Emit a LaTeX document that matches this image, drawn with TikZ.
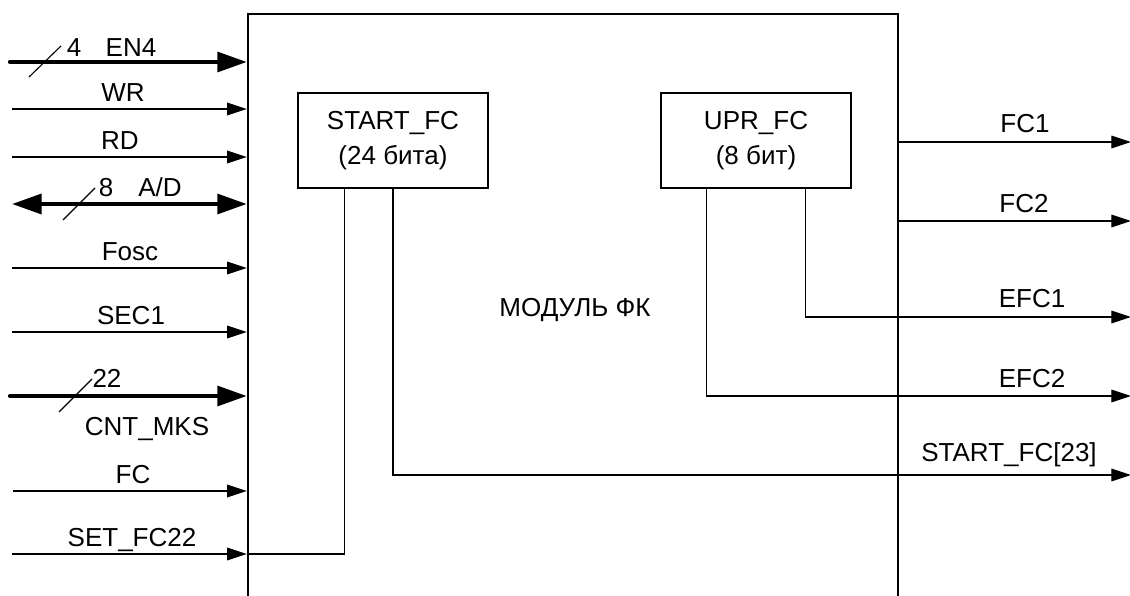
\documentclass[tikz,border=0pt]{standalone}
\usepackage{fontspec}
\setmainfont{Liberation Sans}
\usepackage{tikz}
\usetikzlibrary{arrows.meta,calc}
\tikzset{
  diagram/.style={x=0.025cm,y=-0.025cm,font=\fontsize{18.5}{25}\selectfont},
  lbl/.style={inner sep=0pt,anchor=base},
  modbox/.style={draw,line width=1.6pt,inner sep=0pt},
  regbox/.style={draw,line width=1.5pt,inner sep=0pt,align=center,
    minimum width=4.75cm,minimum height=2.375cm},
  wire/.style={line width=0.8pt},
  sig/.style={wire,-{Triangle[length=14pt,width=9pt]}},
  bus/.style={line width=3pt,line cap=round,-{Triangle[length=21pt,width=14pt]}},
  dbus/.style={line width=3pt,{Triangle[length=21pt,width=14pt]}-{Triangle[length=21pt,width=14pt]}},
  tick/.style={line width=0.8pt},
}
\begin{document}
\begin{tikzpicture}[diagram]
  \useasboundingbox (0,0) rectangle (1130,596);
  \clip (0,0) rectangle (1130,596);

  % module outline (runs past the lower edge)
  \node[modbox,minimum width=16.25cm,minimum height=15.65cm] (mod) at (573,327) {};
  \node[lbl] (modname) at (575,317) {МОДУЛЬ ФК};

  % registers
  \node[regbox] (startfc) at (393,140.5) {START\_FC\\(24 бита)};
  \node[regbox] (uprfc) at (756,140.5) {UPR\_FC\\(8 бит)};

  % inputs
  \coordinate (en4) at (10,62);
  \coordinate (wr) at (12,109);
  \coordinate (rd) at (12,157);
  \coordinate (ad) at (12,204);
  \coordinate (fosc) at (12,268);
  \coordinate (sec1) at (12,332);
  \coordinate (cnt) at (10,396);
  \coordinate (fc) at (13,491);
  \coordinate (setfc) at (12,554);

  \draw[bus] (en4) -- (en4 -| mod.west);
  \draw[tick] ([shift={(19,15)}]en4) -- ++(32,-31);
  \node[lbl] (en4w) at (74,57) {4};
  \node[lbl] (en4n) at (131,57) {EN4};

  \draw[sig] (wr) -- (wr -| mod.west);
  \node[lbl] (wrn) at (123,102) {WR};

  \draw[sig] (rd) -- (rd -| mod.west);
  \node[lbl] (rdn) at (120,150) {RD};

  \draw[dbus] (ad) -- (ad -| mod.west);
  \draw[tick] ([shift={(51,16)}]ad) -- ++(32,-32);
  \node[lbl] (adw) at (106,197) {8};
  \node[lbl] (adn) at (160,197) {A/D};

  \draw[sig] (fosc) -- (fosc -| mod.west);
  \node[lbl] (foscn) at (130,261) {Fosc};

  \draw[sig] (sec1) -- (sec1 -| mod.west);
  \node[lbl] (sec1n) at (131,325) {SEC1};

  \draw[bus] (cnt) -- (cnt -| mod.west);
  \draw[tick] ([shift={(49,16)}]cnt) -- ++(33,-33);
  \node[lbl] (cntw) at (107,388) {22};
  \node[lbl] (cntn) at (147,435) {CNT\_MKS};

  \draw[sig] (fc) -- (fc -| mod.west);
  \node[lbl] (fcn) at (133,483) {FC};

  \draw[sig] (setfc) -- (setfc -| mod.west);
  \node[lbl] (setfcn) at (132,546) {SET\_FC22};
  \draw[wire] (setfc -| mod.west) -| ($(startfc.south west)+(48,0)$);

  % outputs
  \coordinate (fc1) at (1131,142);
  \coordinate (fc2) at (1131,221);
  \coordinate (efc1) at (1131,317);
  \coordinate (efc2) at (1131,396);
  \coordinate (sfc23) at (1131,475);

  \draw[sig] (fc1 -| mod.east) -- (fc1);
  \node[lbl] (fc1n) at (1025,133) {FC1};

  \draw[sig] (fc2 -| mod.east) -- (fc2);
  \node[lbl] (fc2n) at (1024,213) {FC2};

  \draw[sig] ($(uprfc.south east)+(-47,0)$) |- (efc1);
  \node[lbl] (efc1n) at (1032,308) {EFC1};

  \draw[sig] ($(uprfc.south west)+(47,0)$) |- (efc2);
  \node[lbl] (efc2n) at (1032,387) {EFC2};

  \draw[sig] (startfc.south) |- (sfc23);
  \node[lbl] (sfc23n) at (1009,461) {START\_FC[23]};
\end{tikzpicture}
\end{document}
